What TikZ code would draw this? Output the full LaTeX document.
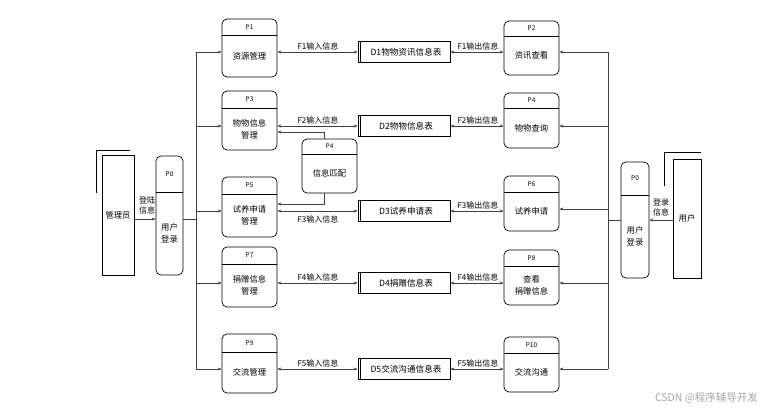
\documentclass[tikz,border=0pt]{standalone}
\usepackage{fontspec}
\setmainfont{Noto Sans CJK SC}
\usetikzlibrary{arrows.meta,calc}
\newcommand\procbox[8]{%
  \node[pbox, minimum width={#4-#2}, minimum height={#5-#3}] (#1) at ({(#2+#4)/2},{(#3+#5)/2}) {};
  \draw[boxline] (#2,#6) -- (#4,#6);
  \node[hdr] (#1h) at ({(#2+#4)/2},{(#3+#6)/2}) {#7};
  \node[bodytxt] (#1b) at ({(#2+#4)/2},{(#6+#5)/2}) {#8};
}
\newcommand\storebox[3]{% name, y, text
  \node[sbox] (#1) at (404,#2) {};
  \draw[boxline] ($(#1.north west)+(3,0)$) -- ($(#1.south west)+(3,0)$);
  \node[storetxt] (#1t) at (406,#2) {#3};
}
\begin{document}
\begin{tikzpicture}[x=1pt,y=-1pt,
  boxline/.style={line width=0.7pt,black},
  pbox/.style={draw=black,line width=0.7pt,rounded corners=5pt,inner sep=0pt},
  sbox/.style={draw=black,line width=0.7pt,minimum width=92pt,minimum height=21pt,inner sep=0pt},
  ebox/.style={draw=black,line width=0.7pt,inner sep=0pt},
  hdr/.style={font=\fontsize{6.5}{7}\selectfont,inner sep=0pt},
  bodytxt/.style={font=\fontsize{8.3}{12}\selectfont,align=center,inner sep=0pt},
  storetxt/.style={font=\fontsize{8.6}{10}\selectfont,inner sep=0pt},
  lbl/.style={font=\fontsize{8}{10}\selectfont,inner sep=0pt,align=center},
  conn/.style={line width=0.7pt,draw=black!75},
  arr/.style={conn,-{Stealth[length=4pt,width=3pt]}},
  darr/.style={conn,{Stealth[length=4pt,width=3pt]}-{Stealth[length=4pt,width=3pt]}}]
\useasboundingbox[fill=white] (0,0) rectangle (765,412);

% external entities
\node[ebox,minimum width=32pt,minimum height=120pt] (adm) at (118,215) {};
\node[bodytxt] at (adm) {管理员};
\draw[boxline] (130,150) -- (96,150) -- (96,193);
\node[ebox,minimum width=28pt,minimum height=119pt] (usr) at (687,218.5) {};
\node[bodytxt] at (usr) {用户};
\draw[boxline] (701,152) -- (664,152) -- (664,186);

% login processes
\procbox{p0l}{156}{156}{183}{275}{192}{P0}{用户\\登录}
\procbox{p0r}{621}{162}{649}{278}{195}{P0}{用户\\登录}

% left column processes
\procbox{p1}{222}{19}{277}{77}{35}{P1}{资源管理}
\procbox{p3}{222}{91}{277}{150}{108}{P3}{物物信息\\管理}
\procbox{p5}{222}{177}{277}{237}{194}{P5}{试养申请\\管理}
\procbox{p7}{222}{247}{277}{307}{264}{P7}{捐赠信息\\管理}
\procbox{p9}{222}{334}{277}{393}{352}{P9}{交流管理}

% middle P4
\procbox{pm}{302}{139}{357}{193}{154}{P4}{信息匹配}

% right column processes
\procbox{p2}{504}{21}{559}{75}{36}{P2}{资讯查看}
\procbox{p4}{504}{93}{559}{148}{108}{P4}{物物查询}
\procbox{p6}{504}{176}{559}{231}{192}{P6}{试养申请}
\procbox{p8}{504}{250}{559}{305}{266}{P8}{查看\\捐赠信息}
\procbox{p10}{504}{337}{559}{392}{353}{P10}{交流沟通}

% stores
\storebox{d1}{52}{D1物物资讯信息表}
\storebox{d2}{126}{D2物物信息表}
\storebox{d3}{211}{D3试养申请表}
\storebox{d4}{283}{D4捐赠信息表}
\storebox{d5}{369}{D5交流沟通信息表}

% bus coordinates
\coordinate (bl1) at (196,52);
\coordinate (bl3) at (196,126);
\coordinate (bl5) at (196,211);
\coordinate (bl7) at (196,283);
\coordinate (bl9) at (196,369);
\coordinate (bl0) at (196,219);
\coordinate (br2) at (608,52);
\coordinate (br4) at (608,126);
\coordinate (br6) at (608,209);
\coordinate (br8) at (608,283);
\coordinate (br10) at (608,369);
\coordinate (br0) at (608,220);

% left side
\draw[arr] (adm.east |- bl0) -- (p0l.west |- bl0);
\node[lbl] at (147,205) {登陆\\信息};
\draw[conn] (p0l.east |- bl0) -- (bl0);
\draw[conn] (bl1) -- (bl9);
\foreach \a/\b in {bl1/p1,bl3/p3,bl5/p5,bl7/p7,bl9/p9}
  \draw[arr] (\a) -- (\a -| \b.west);

% right side
\draw[arr] (usr.west |- br0) -- (p0r.east |- br0);
\node[lbl] at (661,207) {登录\\信息};
\draw[conn] (p0r.west |- br0) -- (br0);
\draw[conn] (br2) -- (br10);
\foreach \a/\b in {br2/p2,br4/p4,br6/p6,br8/p8,br10/p10}
  \draw[arr] (\a) -- (\a -| \b.east);

% flows to stores
\foreach \pp/\dd in {p1/d1,p3/d2,p5/d3,p7/d4,p9/d5}
  \draw[darr] (\dd.west -| \pp.east) -- (\dd.west);
\foreach \pp/\dd in {p2/d1,p4/d2,p6/d3,p8/d4,p10/d5}
  \draw[darr] (\dd.east) -- (\dd.east -| \pp.west);

\node[lbl,anchor=south] (f1i) at (318,50) {F1输入信息};
\node[lbl,anchor=south] (f2i) at (318,124) {F2输入信息};
\node[lbl,anchor=north] (f3i) at (318,215) {F3输入信息};
\node[lbl,anchor=south] (f4i) at (318,281) {F4输入信息};
\node[lbl,anchor=south] (f5i) at (318,367) {F5输入信息};
\node[lbl,anchor=south] (f1o) at (478,50) {F1输出信息};
\node[lbl,anchor=south] (f2o) at (478,124) {F2输出信息};
\node[lbl,anchor=south] (f3o) at (478,209) {F3输出信息};
\node[lbl,anchor=south] (f4o) at (478,281) {F4输出信息};
\node[lbl,anchor=south] (f5o) at (478,367) {F5输出信息};

% information matching links
\draw[arr] (pm.north -| 324,0) -- (324,132) -- (p3.east |- 0,132);
\draw[arr] (pm.south -| 324,0) -- (324,204) -- (p5.east |- 0,204);

% watermark
\node[font=\fontsize{10.5}{12}\selectfont,text=black!35,anchor=east,inner sep=0pt] (wm) at (758,398) {CSDN @程序辅导开发};
\end{tikzpicture}
\end{document}
